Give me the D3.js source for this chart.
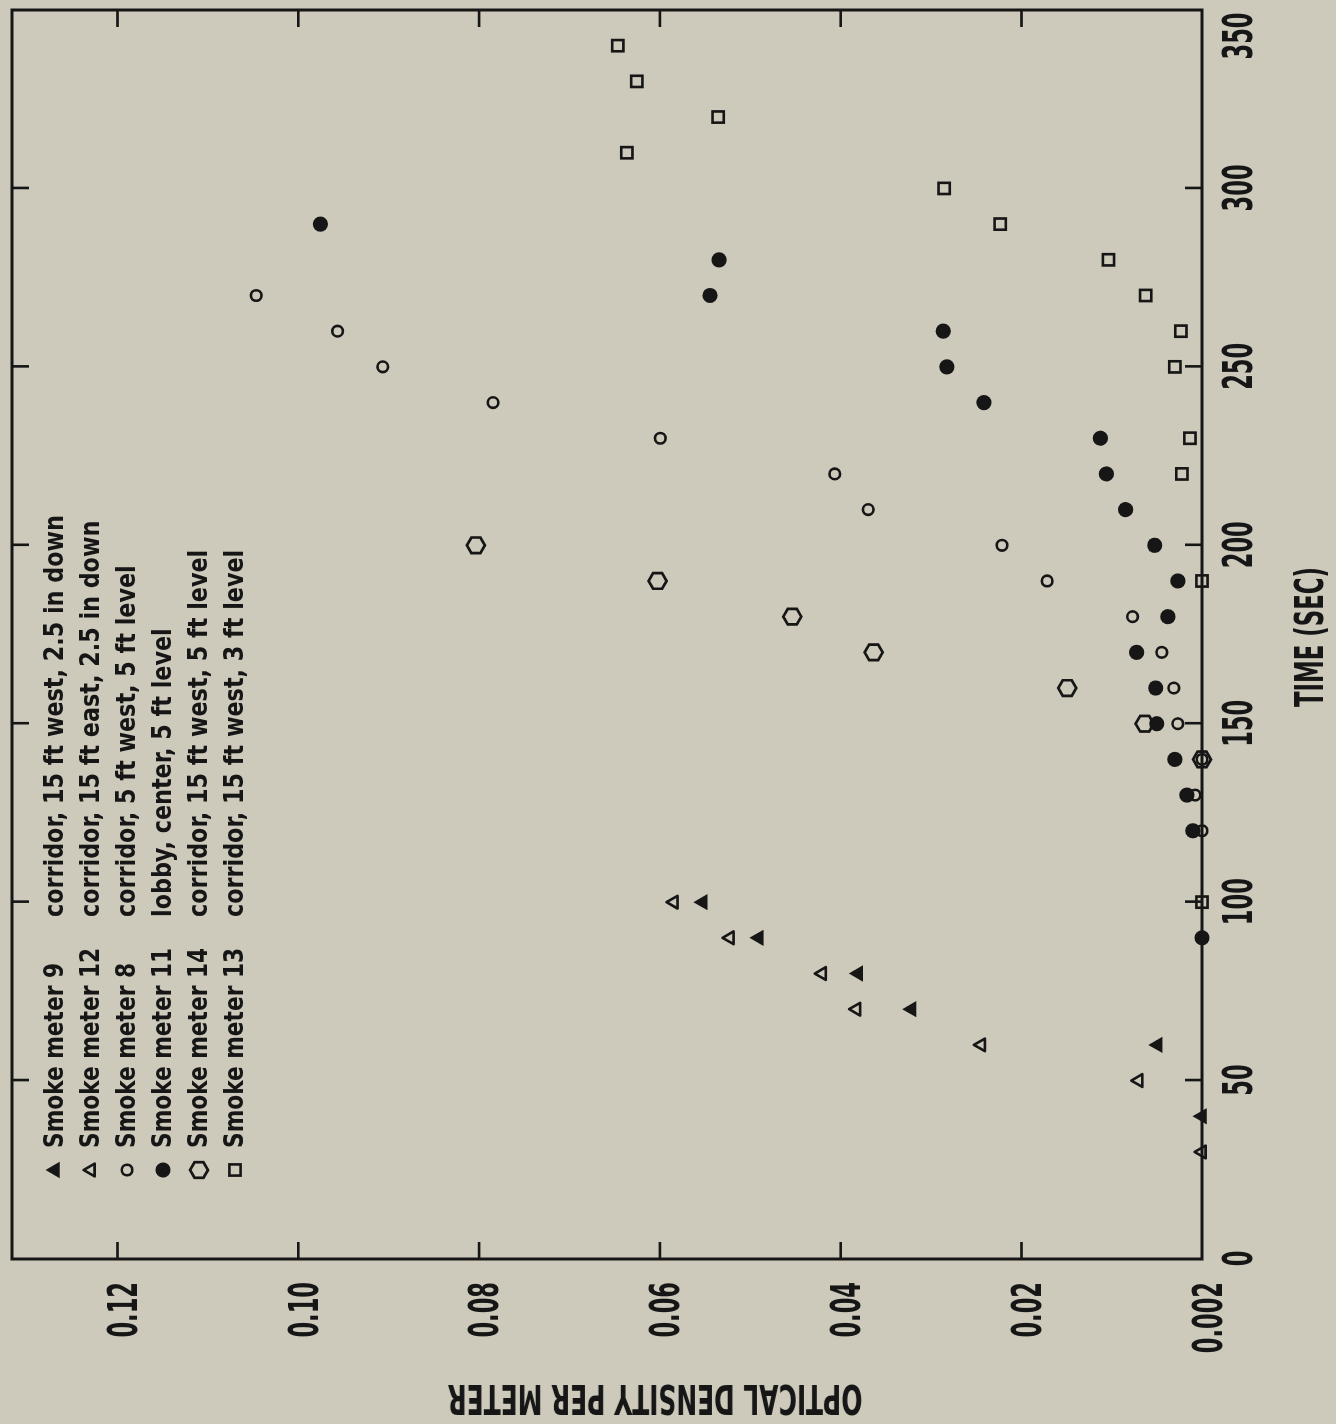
<!DOCTYPE html>
<html>
<head>
<meta charset="utf-8">
<script src="https://cdn.jsdelivr.net/npm/d3@7"></script>
<style>
  html, body { margin: 0; padding: 0; background: #cdc9bb; }
  svg { display: block; }
  text { font-family: "Liberation Sans Narrow", "Arial Narrow", "DejaVu Sans Condensed", sans-serif; font-weight: bold; fill: #141414; }
</style>
</head>
<body>
<svg id="chart" width="1336" height="1424"></svg>
<script>
// ---- data -------------------------------------------------------------
const seriesNames = ["Smoke meter 9", "Smoke meter 12", "Smoke meter 8", "Smoke meter 11", "Smoke meter 14", "Smoke meter 13"];
const seriesPlaces = [
  "corridor, 15 ft west, 2.5 in down",
  "corridor, 15 ft east, 2.5 in down",
  "corridor, 5 ft west, 5 ft level",
  "lobby, center, 5 ft level",
  "corridor, 15 ft west, 5 ft level",
  "corridor, 15 ft west, 3 ft level"
];
const seriesSymbols = ["triangleFilled", "triangleOpen", "circleOpen", "circleFilled", "hexagon", "square"];

const meter9Time = [40, 60, 70, 80, 90, 100];
const meter9Density = [0.002, 0.0064, 0.0321, 0.038, 0.049, 0.0552];

const meter12Time = [30, 50, 60, 70, 80, 90, 100];
const meter12Density = [0.002, 0.0083, 0.0244, 0.0382, 0.042, 0.0522, 0.0584];

const meter8Time = [120, 130, 140, 150, 160, 170, 180, 190, 200, 210, 220, 230, 240, 250, 260, 270];
const meter8Density = [0.002, 0.0027, 0.002, 0.0044, 0.0048, 0.006, 0.0089, 0.0174, 0.0221, 0.0369, 0.0406, 0.0599, 0.0784, 0.0906, 0.0956, 0.1046];

const meter11Time = [90, 120, 130, 140, 150, 160, 170, 180, 190, 200, 210, 220, 230, 240, 250, 260, 270, 280, 290];
const meter11Density = [0.002, 0.0029, 0.0035, 0.0047, 0.0065, 0.0066, 0.0085, 0.0054, 0.0044, 0.0067, 0.0096, 0.0115, 0.0121, 0.0241, 0.0282, 0.0286, 0.0544, 0.0534, 0.0975];

const meter14Time = [140, 150, 160, 170, 180, 190, 200];
const meter14Density = [0.002, 0.0077, 0.0154, 0.0363, 0.0453, 0.0602, 0.0803];

const meter13Time = [100, 190, 220, 230, 250, 260, 270, 280, 290, 300, 310, 320, 330, 340];
const meter13Density = [0.002, 0.002, 0.004, 0.0032, 0.0047, 0.0041, 0.0076, 0.0113, 0.0223, 0.0285, 0.0636, 0.0535, 0.0625, 0.0646];

const seriesTimes = [meter9Time, meter12Time, meter8Time, meter11Time, meter14Time, meter13Time];
const seriesDensities = [meter9Density, meter12Density, meter8Density, meter11Density, meter14Density, meter13Density];

const timeTicks = [0, 50, 100, 150, 200, 250, 300, 350];
const densityTicks = [0.002, 0.02, 0.04, 0.06, 0.08, 0.10, 0.12];
const densityTickLabels = ["0.002", "0.02", "0.04", "0.06", "0.08", "0.10", "0.12"];

const xTitle = "TIME (SEC)";
const yTitle = "OPTICAL DENSITY PER METER";

// ---- layout -----------------------------------------------------------
// The plot is laid out upright (time across, density up) and then turned
// a quarter turn counter-clockwise onto the page.
const ink = "#141414";
const W = 1249;   // time extent
const H = 1190;   // density extent

const svg = d3.select("#chart");

const defs = svg.append("defs");
defs.append("filter").attr("id", "soft")
  .append("feGaussianBlur").attr("stdDeviation", 0.6);

const root = svg.append("g").attr("filter", "url(#soft)");
const plot = root.append("g").attr("transform", "translate(12,1259) rotate(-90)");

const x = d3.scaleLinear().domain([0, 350]).range([0, W]);
// floor of the density axis is the 0.002 detection level
const y = d3.scaleLinear().domain([0.002, 0.02, 0.12]).range([H, 1009, 105]);

// frame
plot.append("rect").attr("x", 0).attr("y", 0).attr("width", W).attr("height", H)
  .attr("fill", "none").attr("stroke", ink).attr("stroke-width", 3);

const tickLen = 17;
const fmtDensity = d => densityTickLabels[densityTicks.indexOf(d)];

const gx = plot.append("g").attr("transform", `translate(0,${H})`)
  .call(d3.axisBottom(x).tickValues(timeTicks).tickSizeInner(-tickLen).tickSizeOuter(0).tickPadding(21));
const gx2 = plot.append("g")
  .call(d3.axisTop(x).tickValues(timeTicks.filter(t => t > 0 && t < 350)).tickSizeInner(-tickLen).tickSizeOuter(0).tickFormat(""));
const gy = plot.append("g")
  .call(d3.axisLeft(y).tickValues(densityTicks).tickFormat(fmtDensity).tickSizeInner(-tickLen).tickSizeOuter(0).tickPadding(23));
const gy2 = plot.append("g").attr("transform", `translate(${W},0)`)
  .call(d3.axisRight(y).tickValues(densityTicks.slice(1)).tickSizeInner(-tickLen).tickSizeOuter(0).tickFormat(""));

[gx, gx2, gy, gy2].forEach(g => {
  g.select(".domain").remove();
  g.selectAll(".tick line").attr("stroke", ink).attr("stroke-width", 2.6);
  g.selectAll(".tick text").attr("fill", ink).attr("font-size", 41)
    .attr("font-family", null);
});
// end ticks sit on the frame corners; the last label is kept inside the page
gx.selectAll(".tick").filter(d => d === 0 || d === 350).select("line").remove();
gx.selectAll(".tick text").filter(d => d === 350).attr("text-anchor", "end").attr("x", -3);
gy.selectAll(".tick").filter(d => d === 0.002).select("line").remove();
gy.selectAll(".tick text").attr("dy", "0.47em");

// ---- symbols ----------------------------------------------------------
const hexPath = r => {
  const pts = d3.range(6).map(i => {
    const a = Math.PI / 2 + i * Math.PI / 3;
    return [r * Math.cos(a), r * Math.sin(a)];
  });
  return "M" + pts.map(p => p.join(",")).join("L") + "Z";
};

function addSymbol(g, kind) {
  switch (kind) {
    case "triangleFilled":
      g.append("path").attr("d", d3.symbol(d3.symbolTriangle, 115)()).attr("fill", ink);
      break;
    case "triangleOpen":
      g.append("path").attr("d", d3.symbol(d3.symbolTriangle, 70)())
        .attr("fill", "none").attr("stroke", ink).attr("stroke-width", 2.6).attr("stroke-linejoin", "round");
      break;
    case "circleOpen":
      g.append("circle").attr("r", 5.3).attr("fill", "none").attr("stroke", ink).attr("stroke-width", 2.6);
      break;
    case "circleFilled":
      g.append("circle").attr("r", 7.6).attr("fill", ink);
      break;
    case "hexagon":
      g.append("path").attr("d", hexPath(9)).attr("fill", "none").attr("stroke", ink).attr("stroke-width", 2.7);
      break;
    case "square":
      g.append("rect").attr("x", -5.6).attr("y", -5.6).attr("width", 11.2).attr("height", 11.2)
        .attr("fill", "none").attr("stroke", ink).attr("stroke-width", 2.6);
      break;
  }
}

const marks = plot.append("g");
seriesNames.forEach((name, i) => {
  const pts = seriesTimes[i].map((t, j) => ({ t, d: seriesDensities[i][j] }));
  marks.append("g").attr("class", "series")
    .selectAll("g").data(pts).join("g")
    .attr("transform", p => `translate(${x(p.t)},${y(p.d)})`)
    .each(function () { addSymbol(d3.select(this), seriesSymbols[i]); });
});

// ---- legend -----------------------------------------------------------
const legend = plot.append("g");
const rowGap = 36, firstBase = 51;
seriesNames.forEach((name, i) => {
  const base = firstBase + i * rowGap;
  addSymbol(legend.append("g").attr("transform", `translate(89,${base - 8})`), seriesSymbols[i]);
  legend.append("text").attr("class", "lg1").attr("x", 111).attr("y", base).attr("font-size", 27).text(name);
  legend.append("text").attr("class", "lg2").attr("x", 342).attr("y", base).attr("font-size", 27).text(seriesPlaces[i]);
});

// ---- titles -----------------------------------------------------------
plot.append("text").attr("class", "xt").attr("x", 622).attr("y", 1311)
  .attr("text-anchor", "middle").attr("font-size", 39).text(xTitle);
plot.append("text").attr("class", "yt")
  .attr("transform", "translate(-126,643) rotate(-90)")
  .attr("text-anchor", "middle").attr("font-size", 41).text(yTitle);

// ---- condensed lettering ------------------------------------------------
function measure(str, size) {
  const t = svg.append("text").attr("font-size", size).text(str);
  const w = t.node().getComputedTextLength();
  t.remove();
  return w;
}
function squeeze(sel, factor) {
  sel.each(function () {
    const w = this.getComputedTextLength();
    this.setAttribute("textLength", (w * factor).toFixed(1));
    this.setAttribute("lengthAdjust", "spacingAndGlyphs");
  });
}
const tickFactor = 47 / measure("300", 41);
squeeze(plot.selectAll(".tick text"), tickFactor);
squeeze(plot.selectAll(".lg1"), 185 / measure("Smoke meter 9", 27));
squeeze(plot.selectAll(".lg2"), 402 / measure(seriesPlaces[0], 27));
squeeze(plot.selectAll(".xt"), 140 / measure(xTitle, 39));
squeeze(plot.selectAll(".yt"), 415 / measure(yTitle, 41));
</script>
</body>
</html>
